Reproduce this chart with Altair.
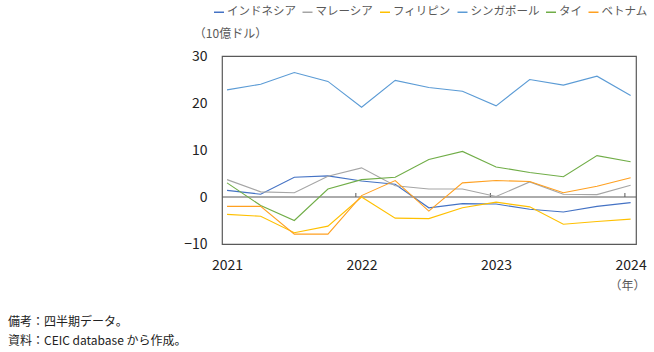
import altair as alt
import pandas as pd

countries = ["インドネシア", "マレーシア", "フィリピン", "シンガポール", "タイ", "ベトナム"]
colors = ["#4472C4", "#A5A5A5", "#FFC000", "#5B9BD5", "#70AD47", "#FFA020"]

quarters = list(range(13))  # 2021Q1 .. 2024Q1
year_labels = {0: "2021", 4: "2022", 8: "2023", 12: "2024"}

indonesia = [1.4, 0.6, 4.2, 4.5, 3.4, 2.7, -2.3, -1.4, -1.5, -2.6, -3.2, -2.0, -1.2]
malaysia = [3.7, 1.1, 0.9, 4.4, 6.2, 2.4, 1.7, 1.7, 0.1, 3.2, 0.6, 0.5, 2.5]
philippines = [-3.7, -4.1, -7.6, -6.2, 0.0, -4.5, -4.6, -2.3, -1.1, -2.1, -5.8, -5.2, -4.7]
singapore = [22.8, 24.0, 26.5, 24.6, 19.1, 24.8, 23.3, 22.5, 19.4, 25.0, 23.8, 25.7, 21.6]
thailand = [3.0, -1.8, -5.0, 1.7, 3.7, 4.2, 8.0, 9.7, 6.4, 5.2, 4.3, 8.8, 7.5]
vietnam = [-2.0, -2.0, -7.9, -7.9, 0.3, 3.5, -3.0, 3.0, 3.5, 3.3, 0.9, 2.3, 4.1]

series = [indonesia, malaysia, philippines, singapore, thailand, vietnam]
y_ticks = [-10, 0, 10, 20, 30]
minor_ticks = [3.83, 7.83, 11.83]
notes = ["備考：四半期データ。", "資料：CEIC database から作成。"]

rows = []
for c, vals in zip(countries, series):
    for q, v in zip(quarters, vals):
        rows.append({"country": c, "q": q, "value": v})
df = pd.DataFrame(rows)

FONT = "Noto Sans CJK JP"

label_expr = "datum.value == 0 ? '2021' : datum.value == 4 ? '2022' : datum.value == 8 ? '2023' : datum.value == 12 ? '2024' : ''"

x_scale = alt.Scale(domain=[-0.15, 12.16], nice=False, zero=False)
y_scale = alt.Scale(domain=[-10, 30], nice=False)

lines = alt.Chart(df).mark_line(strokeWidth=1.1).encode(
    x=alt.X("q:Q", scale=x_scale,
            axis=alt.Axis(values=list(year_labels.keys()), labelExpr=label_expr,
                          grid=False, ticks=False, domain=False,
                          labelFont=FONT, labelFontSize=14, labelColor="#222222",
                          labelPadding=14, labelFlush=False,
                          title="（年）", titleFont=FONT, titleFontSize=12,
                          titleFontWeight="normal", titleColor="#595959",
                          titleX=405, titleY=41, titleAlign="center",
                          titleBaseline="middle")),
    y=alt.Y("value:Q", scale=y_scale,
            axis=alt.Axis(values=y_ticks, grid=False, ticks=False, domain=False,
                          labelFont=FONT, labelFontSize=14, labelColor="#222222",
                          labelPadding=15,
                          title="（10億ドル）", titleFont=FONT, titleFontSize=12,
                          titleFontWeight="normal", titleColor="#595959",
                          titleAngle=0, titleX=8, titleY=-23,
                          titleAlign="center", titleBaseline="middle")),
    color=alt.Color("country:N",
                    scale=alt.Scale(domain=countries, range=colors),
                    sort=countries,
                    legend=alt.Legend(title=None, orient="none", direction="horizontal",
                                      columns=6, legendX=-9, legendY=-50,
                                      symbolType="stroke", symbolSize=100,
                                      symbolStrokeWidth=1.5, labelOffset=2,
                                      columnPadding=3.5,
                                      labelFont=FONT, labelFontSize=11.5,
                                      labelColor="#595959")),
    order=alt.Order("q:Q"),
)

zero_df = pd.DataFrame({"y": [0]})
zero_line = alt.Chart(zero_df).mark_rule(color="#595959", strokeWidth=1).encode(
    y=alt.Y("y:Q", scale=y_scale)
)

tick_df = pd.DataFrame({"q": minor_ticks, "y0": [0] * 3, "y1": [0.85] * 3})
tick_marks = alt.Chart(tick_df).mark_rule(color="#595959", strokeWidth=1).encode(
    x=alt.X("q:Q", scale=x_scale),
    y=alt.Y("y0:Q", scale=y_scale),
    y2="y1:Q",
)

note_df = pd.DataFrame({"t": [0]})
note_text = alt.Chart(note_df).mark_text(
    align="left", baseline="top", font=FONT, fontSize=12, color="#222222",
    lineHeight=19
).encode(
    x=alt.value(-214),
    y=alt.value(261),
    text=alt.value(notes),
)

chart = alt.layer(zero_line, tick_marks, lines, note_text).properties(
    width=414, height=188,
    padding={"left": 222, "top": 56, "right": 18, "bottom": 108},
    autosize=alt.AutoSizeParams(type="none"),
    background="white",
).configure_view(stroke="#595959", strokeWidth=1.2)

chart.save("out.html", embed_options={"renderer": "svg", "actions": False})
